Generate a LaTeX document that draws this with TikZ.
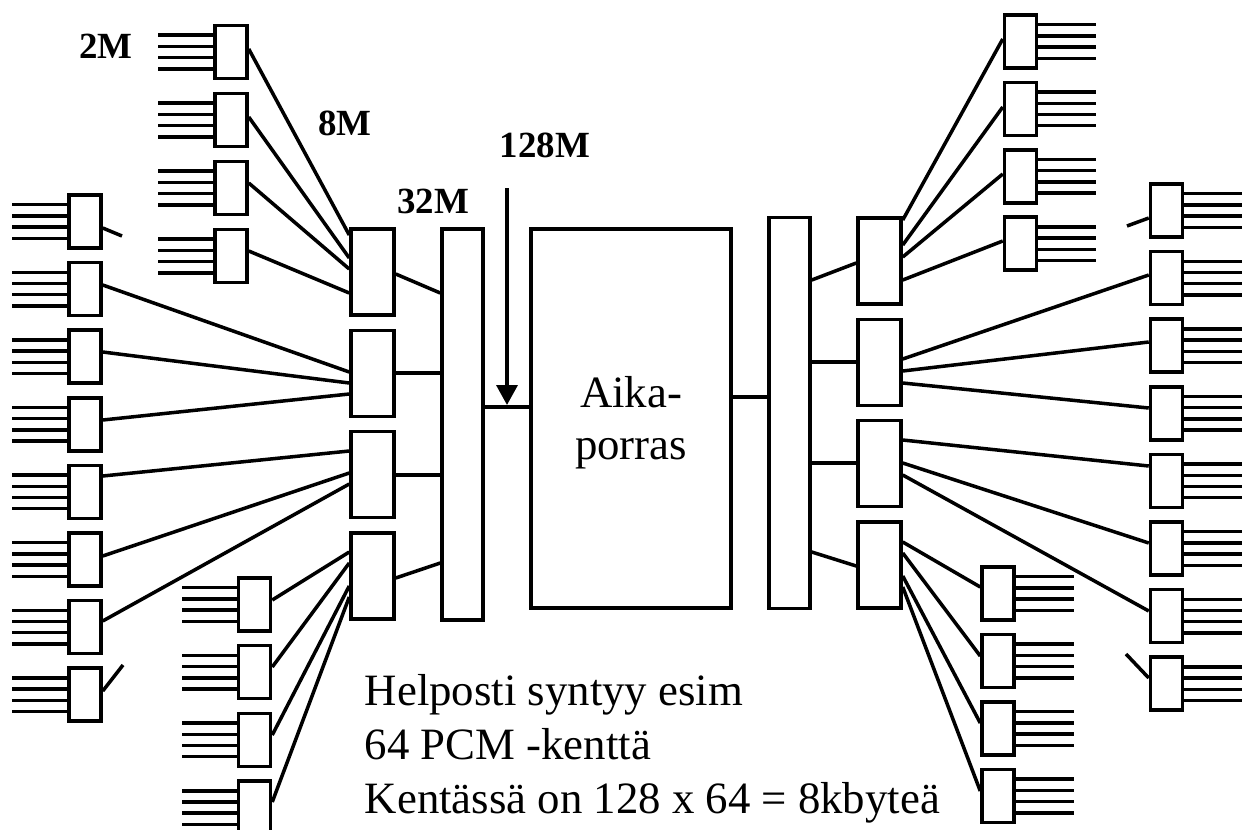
\documentclass[tikz,border=0pt]{standalone}
\usepackage{fontspec}
\setmainfont{Liberation Serif}
\usetikzlibrary{arrows.meta}

\begin{document}
\begin{tikzpicture}[
    x=0.02cm, y=-0.02cm,
    line width=2pt,
    bx/.style={draw, inner sep=0pt, minimum width=0.64cm, minimum height=1.06cm},
    mx/.style={draw, inner sep=0pt, minimum width=0.86cm, minimum height=1.72cm},
    lb/.style={font=\fontsize{21}{25}\selectfont\bfseries, anchor=base, inner sep=0pt},
    tx/.style={font=\fontsize{25.5}{29.5}\selectfont, inner sep=0pt},
  ]
  \useasboundingbox (0,0) rectangle (1244,829);

  % --- ingressi a 2M: colonna esterna sinistra ---
  \foreach \i in {1,...,8}
    \node[bx] (L\i) at (85,{221.5+67.6*(\i-1)}) {};

  % --- ingressi a 2M: gruppo alto e gruppo basso ---
  \foreach \i in {1,...,4} {
    \node[bx] (T\i) at (231,{52+68*(\i-1)}) {};
    \node[bx] (B\i) at (254.5,{604.5+67.7*(\i-1)}) {};
  }

  % --- multiplex 8M e 32M a sinistra ---
  \foreach \i in {1,...,4}
    \node[mx] (M\i) at (372.5,{272+101.3*(\i-1)}) {};
  \node[draw, inner sep=0pt, minimum width=0.82cm, minimum height=7.82cm]
       (S) at (462.5,424.5) {};

  % --- porras centrale ---
  \node[draw, inner sep=0pt, minimum width=4cm, minimum height=7.58cm]
       (aika) at (631,418.5) {};
  \node[tx, align=center] (aikat) at (631,423) {Aika-\\porras};

  % --- multiplex 32M e 8M a destra ---
  \node[draw, inner sep=0pt, minimum width=0.82cm, minimum height=7.82cm]
       (Sr) at (789.5,413) {};
  \foreach \i in {1,...,4}
    \node[mx] (N\i) at (879.5,{261+101.3*(\i-1)}) {};

  % --- uscite a 2M a destra ---
  \foreach \i in {1,...,4} {
    \node[bx] (U\i) at (1020.5,{41.5+67.4*(\i-1)}) {};
    \node[bx] (D\i) at (998,{593.5+67.5*(\i-1)}) {};
  }
  \foreach \i in {1,...,8}
    \node[bx] (R\i) at (1166.5,{210.5+67.6*(\i-1)}) {};

  % --- i quattro fili di ogni 2M ---
  \foreach \n in {L1,L2,L3,L4,L5,L6,L7,L8,T1,T2,T3,T4,B1,B2,B3,B4}
    \foreach \d in {-16.8,-5.6,5.6,16.8}
      \draw (\n.west) ++(0,\d) -- ++(-55,0);
  \foreach \n in {U1,U2,U3,U4,D1,D2,D3,D4,R1,R2,R3,R4,R5,R6,R7,R8}
    \foreach \d in {-16.8,-5.6,5.6,16.8}
      \draw (\n.east) ++(0,\d) -- ++(58,0);

  % --- collegamenti lato sinistro ---
  \foreach \a/\ya/\b/\yb in {T1/49/M1/235, T2/117/M1/258, T3/183/M1/269, T4/251/M1/293,
      L2/285/M2/372, L3/352/M2/383, L4/420/M2/394,
      L5/476/M3/451, L6/556/M3/473, L7/621/M3/484,
      B1/600/M4/552, B2/667/M4/563, B3/735/M4/586, B4/802/M4/597,
      M1/274/S/293, M2/373/S/373, M3/475/S/475, M4/578/S/563,
      S/407/aika/407}
    \draw (\a.east |- 0,\ya) -- (\b.west |- 0,\yb);

  % --- collegamenti lato destro ---
  \foreach \a/\ya/\b/\yb in {aika/397/Sr/397,
      Sr/280/N1/263, Sr/362/N2/362, Sr/463/N3/463, Sr/552/N4/566,
      N1/220/U1/39, N1/245/U2/107, N1/257/U3/174, N1/280/U4/241,
      N2/359/R2/275, N2/371/R3/342, N2/383/R4/408,
      N3/440/R5/466, N3/463/R6/543, N3/475/R7/611,
      N4/542/D1/587, N4/553/D2/656, N4/576/D3/723, N4/587/D4/791}
    \draw (\a.east |- 0,\ya) -- (\b.west |- 0,\yb);

  % --- tratti interrotti ai bordi ---
  \coordinate (cL1) at (122,236);
  \coordinate (cL8) at (123,665);
  \coordinate (cR1) at (1127,226);
  \coordinate (cR8) at (1126,654);
  \draw (L1.east |- 0,228) -- (cL1);
  \draw (L8.east |- 0,691) -- (cL8);
  \draw (cR1) -- (R1.west |- 0,218);
  \draw (cR8) -- (R8.west |- 0,678);

  % --- freccia 128M ---
  \coordinate (k128) at (507,188);
  \coordinate (t128) at (507,405);
  \draw[-{Triangle[width=0.42cm,length=0.4cm]}] (k128) -- (t128);

  % --- etichette ---
  \node[lb] (e2)   at (106,58)  {2M};
  \node[lb] (e8)   at (345,135) {8M};
  \node[lb] (e32)  at (433,213) {32M};
  \node[lb] (e128) at (545,157) {128M};

  % --- nota ---
  \node[tx, anchor=base west] (n1) at (363,705) {Helposti syntyy esim};
  \node[tx, anchor=base west] (n2) at (363,759) {64 PCM -kenttä};
  \node[tx, anchor=base west] (n3) at (363,813) {Kentässä on 128 x 64 = 8kbyteä};

\end{tikzpicture}
\end{document}
